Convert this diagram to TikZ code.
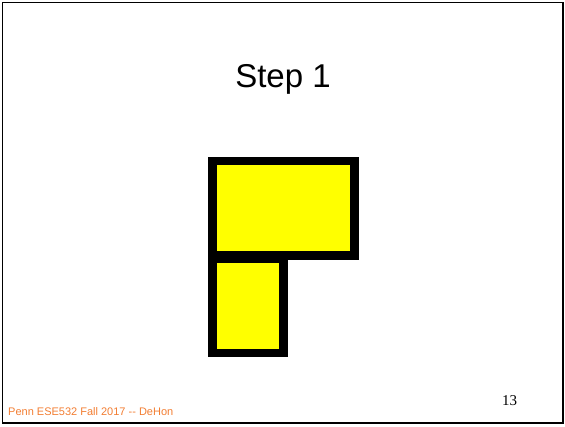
\documentclass[tikz,border=0pt]{standalone}
\usepackage{fontspec}
\setmainfont{Liberation Sans}
\newfontfamily\numfont{Liberation Serif}
\definecolor{footorange}{RGB}{242,125,50}
\definecolor{boxyellow}{RGB}{255,255,0}

\begin{document}
\begin{tikzpicture}[x=1pt,y=-1pt,line join=miter]
  \useasboundingbox (0,0) rectangle (565,426);
  % slide frame
  \draw[line width=1.5pt] (2.5,2.5) rectangle (563,423);
  % title
  \node[anchor=base,font=\fontsize{33}{36}\selectfont] (title) at (283,87.7) {Step 1};
  % boxes
  \draw[line width=8.5pt,fill=boxyellow] (212.3,161) rectangle (354.3,255.7);
  \draw[line width=8.5pt,fill=boxyellow] (212.3,259) rectangle (283.3,353);
  % footer and page number
  \node[anchor=base west,inner sep=0pt,text=footorange,font=\fontsize{11}{13}\selectfont] (footer) at (8,415.5) {Penn ESE532 Fall 2017 -{}- DeHon};
  \node[anchor=base,inner sep=0pt,font=\numfont\fontsize{15}{18}\selectfont] (pagenum) at (509.7,405.7) {13};
\end{tikzpicture}
\end{document}
